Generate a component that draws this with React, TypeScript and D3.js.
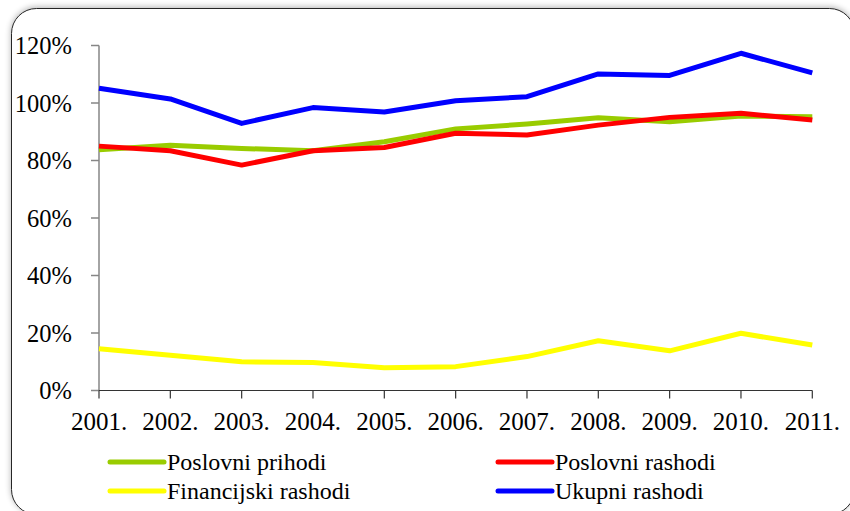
import React from "react";
import * as d3 from "d3";

const years = ["2001.", "2002.", "2003.", "2004.", "2005.", "2006.", "2007.", "2008.", "2009.", "2010.", "2011."];
const poslovniPrihodi = [83.7, 85.3, 84.2, 83.4, 86.5, 91.0, 92.7, 94.9, 93.5, 95.5, 95.2];
const poslovniRashodi = [85.0, 83.4, 78.4, 83.4, 84.5, 89.5, 88.9, 92.3, 95.0, 96.4, 94.1];
const financijskiRashodi = [14.5, 12.3, 10.0, 9.7, 7.9, 8.3, 11.8, 17.3, 13.8, 19.9, 15.8];
const ukupniRashodi = [105.1, 101.4, 92.9, 98.4, 96.9, 100.8, 102.2, 110.1, 109.6, 117.3, 110.5];
const yTicks = [0, 20, 40, 60, 80, 100, 120];

const seriesNames = ["Poslovni prihodi", "Poslovni rashodi", "Financijski rashodi", "Ukupni rashodi"];
const seriesColors = ["#99CC00", "#FF0000", "#FFFF00", "#0000FF"];
const seriesValues = [poslovniPrihodi, poslovniRashodi, financijskiRashodi, ukupniRashodi];

const W = 850;
const H = 511;
const FONT = `"Liberation Serif"`;

export default function App() {
  const x = d3.scalePoint<string>().domain(years).range([99, 812.3]);
  const y = d3.scaleLinear().domain([0, 120]).range([390.5, 45.5]);
  const line = d3
    .line<number>()
    .x((_, i) => x(years[i]) as number)
    .y((d) => y(d));

  const drawOrder = [2, 0, 1, 3];
  const legendPos = [
    { lx: 110, ly: 462 },
    { lx: 498, ly: 462 },
    { lx: 110, ly: 491 },
    { lx: 498, ly: 491 },
  ];

  const yAxisStyle = { fontFamily: FONT, fontSize: "24.5px" };
  const xAxisStyle = { fontFamily: FONT, fontSize: "25px" };
  const legStyle = { fontFamily: FONT, fontSize: "24px" };

  return (
    <svg
      width={W}
      height={H}
      style={{ position: "absolute", left: 0, top: 0, display: "block" }}
    >
      <defs>
        <filter id="shadow" x="-5%" y="-5%" width="110%" height="110%">
          <feGaussianBlur in="SourceAlpha" stdDeviation="3" />
          <feOffset dx="0" dy="-1" result="b" />
          <feComponentTransfer>
            <feFuncA type="linear" slope="0.3" />
          </feComponentTransfer>
          <feMerge>
            <feMergeNode />
            <feMergeNode in="SourceGraphic" />
          </feMerge>
        </filter>
      </defs>
      <rect x={0} y={0} width={W} height={H} fill="#ffffff" />
      <rect
        x={11.5}
        y={8.5}
        width={843}
        height={506}
        rx={25}
        ry={25}
        fill="#ffffff"
        stroke="#262626"
        strokeWidth={1}
        filter="url(#shadow)"
      />

      {/* Y axis */}
      <line x1={99} x2={99} y1={y(120)} y2={y(0)} stroke="#868686" strokeWidth={1.5} />
      {yTicks.map((t) => (
        <g key={t}>
          <line x1={91} x2={99} y1={y(t)} y2={y(t)} stroke="#868686" strokeWidth={1.5} />
          <text x={72} y={y(t)} dy="0.35em" textAnchor="end" style={yAxisStyle} fill="#000">
            {t}%
          </text>
        </g>
      ))}

      {/* X axis */}
      <line x1={99} x2={812.3} y1={y(0)} y2={y(0)} stroke="#333" strokeWidth={1.2} />
      {years.map((yr) => (
        <g key={yr}>
          <line
            x1={x(yr) as number}
            x2={x(yr) as number}
            y1={y(0)}
            y2={y(0) + 8}
            stroke="#333"
            strokeWidth={1.2}
          />
          <text x={x(yr) as number} y={y(0) + 39} textAnchor="middle" style={xAxisStyle} fill="#000">
            {yr}
          </text>
        </g>
      ))}

      {/* Lines */}
      {drawOrder.map((si) => (
        <path
          key={seriesNames[si]}
          d={line(seriesValues[si]) || ""}
          fill="none"
          stroke={seriesColors[si]}
          strokeWidth={5}
          strokeLinejoin="round"
        />
      ))}

      {/* Legend */}
      {seriesNames.map((name, i) => (
        <g key={name}>
          <line
            x1={legendPos[i].lx}
            x2={legendPos[i].lx + 54}
            y1={legendPos[i].ly}
            y2={legendPos[i].ly}
            stroke={seriesColors[i]}
            strokeWidth={5}
            strokeLinecap="round"
          />
          <text x={legendPos[i].lx + 57} y={legendPos[i].ly} dy="0.33em" style={legStyle} fill="#000">
            {name}
          </text>
        </g>
      ))}
    </svg>
  );
}
